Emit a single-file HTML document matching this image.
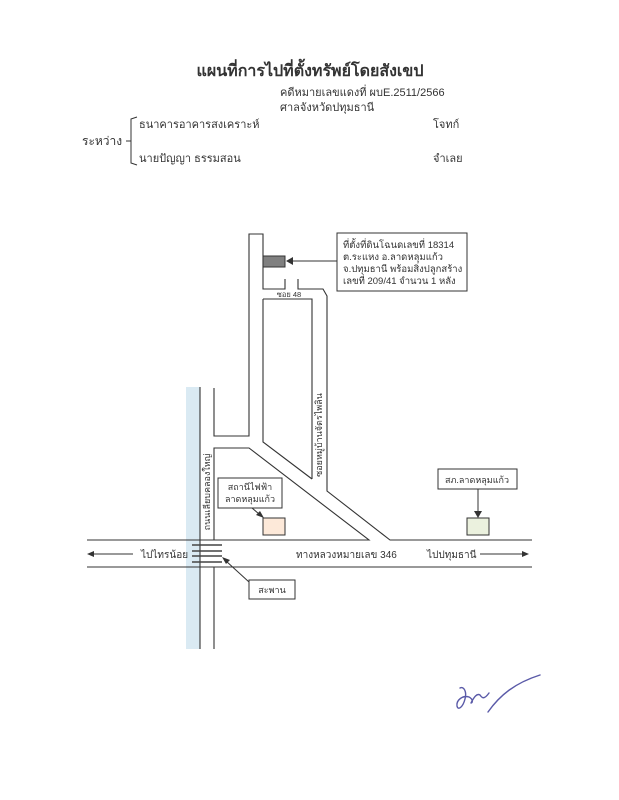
<!DOCTYPE html>
<html><head><meta charset="utf-8"><style>
body{margin:0;background:#fff}
svg{display:block}
text{font-family:"Liberation Sans","Noto Sans CJK SC",sans-serif;fill:#333}
</style></head><body>
<svg width="619" height="800" viewBox="0 0 619 800" xmlns="http://www.w3.org/2000/svg">
<text x="310" y="76" font-size="16" font-weight="bold" text-anchor="middle" fill="#222">แผนที่การไปที่ตั้งทรัพย์โดยสังเขป</text>
<text x="280" y="96" font-size="11">คดีหมายเลขแดงที่ ผบE.2511/2566</text>
<text x="280" y="111" font-size="11">ศาลจังหวัดปทุมธานี</text>
<text x="139" y="128" font-size="11">ธนาคารอาคารสงเคราะห์</text>
<text x="433" y="128" font-size="11">โจทก์</text>
<text x="82" y="145" font-size="12">ระหว่าง</text>
<text x="139" y="162" font-size="11">นายปัญญา ธรรมสอน</text>
<text x="433" y="162" font-size="11">จำเลย</text>
<path d="M137,117 L131,119 L131,163 L137,165 M131,141 L126,141" stroke="#333" fill="none" stroke-width="1"/>

<rect x="186" y="387" width="14" height="262" fill="#daeaf3"/>
<g stroke="#333" stroke-width="1.1" fill="none">
<line x1="200" y1="387" x2="200" y2="649"/>
<path d="M214,388 L214,436 L249,436 L249,234 L263,234 L263,289 L285,289 L285,279"/>
<path d="M298,279 L298,289 L323,289 L327,296 L327,491 L390,540 L532,540"/>
<path d="M263,299 L312,299 L312,479"/>
<path d="M263,299 L263,442 L312,479"/>
<path d="M214,540 L214,448 L249,448 L369,540 L214,540"/>
<line x1="87" y1="540" x2="214" y2="540"/>
<line x1="87" y1="567" x2="532" y2="567"/>
<line x1="214" y1="567" x2="214" y2="649"/>
</g>
<g stroke="#444" stroke-width="1.4">
<line x1="192" y1="545" x2="222" y2="545"/>
<line x1="192" y1="551" x2="222" y2="551"/>
<line x1="192" y1="556" x2="222" y2="556"/>
<line x1="192" y1="562" x2="222" y2="562"/>
</g>
<rect x="263" y="256" width="22" height="11" fill="#808080" stroke="#333"/>
<rect x="337" y="233" width="130" height="58" fill="#fff" stroke="#333"/>
<text x="343" y="248" font-size="9.5">ที่ตั้งที่ดินโฉนดเลขที่ 18314</text>
<text x="343" y="260" font-size="9.5">ต.ระแหง อ.ลาดหลุมแก้ว</text>
<text x="343" y="272" font-size="9.5">จ.ปทุมธานี พร้อมสิ่งปลูกสร้าง</text>
<text x="343" y="284" font-size="9.5">เลขที่ 209/41 จำนวน 1 หลัง</text>
<line x1="337" y1="261" x2="292" y2="261" stroke="#333"/>
<path d="M286,261 L293,257 L293,265 Z" fill="#333"/>
<text x="289" y="297" font-size="7.5" text-anchor="middle">ซอย 48</text>
<text transform="translate(210,492) rotate(-90)" font-size="9" text-anchor="middle">ถนนเลียบคลองใหญ่</text>
<text transform="translate(322,435) rotate(-90)" font-size="9" text-anchor="middle">ซอยหมู่บ้านจัตรไพลิน</text>

<rect x="218" y="478" width="64" height="30" fill="#fff" stroke="#333"/>
<text x="250" y="490" font-size="9" text-anchor="middle">สถานีไฟฟ้า</text>
<text x="250" y="502" font-size="9" text-anchor="middle">ลาดหลุมแก้ว</text>
<line x1="252" y1="508" x2="259" y2="514" stroke="#333"/>
<path d="M264,518 L256,515 L260,511 Z" fill="#333"/>
<rect x="263" y="518" width="22" height="17" fill="#fde9d9" stroke="#333"/>

<rect x="438" y="469" width="79" height="20" fill="#fff" stroke="#333"/>
<text x="477" y="483" font-size="9" text-anchor="middle">สภ.ลาดหลุมแก้ว</text>
<line x1="478" y1="489" x2="478" y2="512" stroke="#333"/>
<path d="M478,518 L474,511 L482,511 Z" fill="#333"/>
<rect x="467" y="518" width="22" height="17" fill="#ebf1de" stroke="#333"/>

<line x1="93" y1="554" x2="133" y2="554" stroke="#333"/>
<path d="M87,554 L94,551 L94,557 Z" fill="#333"/>
<text x="141" y="558" font-size="10">ไปไทรน้อย</text>
<text x="296" y="558" font-size="10">ทางหลวงหมายเลข 346</text>
<text x="427" y="558" font-size="10">ไปปทุมธานี</text>
<line x1="480" y1="554" x2="523" y2="554" stroke="#333"/>
<path d="M529,554 L522,551 L522,557 Z" fill="#333"/>

<rect x="249" y="580" width="46" height="19" fill="#fff" stroke="#333"/>
<text x="272" y="593" font-size="9" text-anchor="middle">สะพาน</text>
<line x1="249" y1="582" x2="226" y2="561" stroke="#333"/>
<path d="M222,557 L230,560 L226,564 Z" fill="#333"/>

<g stroke="#5a5aa8" stroke-width="1.4" fill="none" stroke-linecap="round">
<path d="M460,688 C464,686 467,692 465,699 C463,707 458,711 457,706 C456,700 463,695 469,697 C473,699 473,703 471,703 M471,703 C474,697 477,693 480,695 C482,698 484,700 489,693"/>
<path d="M488,712 C500,695 515,683 540,675"/>
</g>
</svg>
</body></html>
